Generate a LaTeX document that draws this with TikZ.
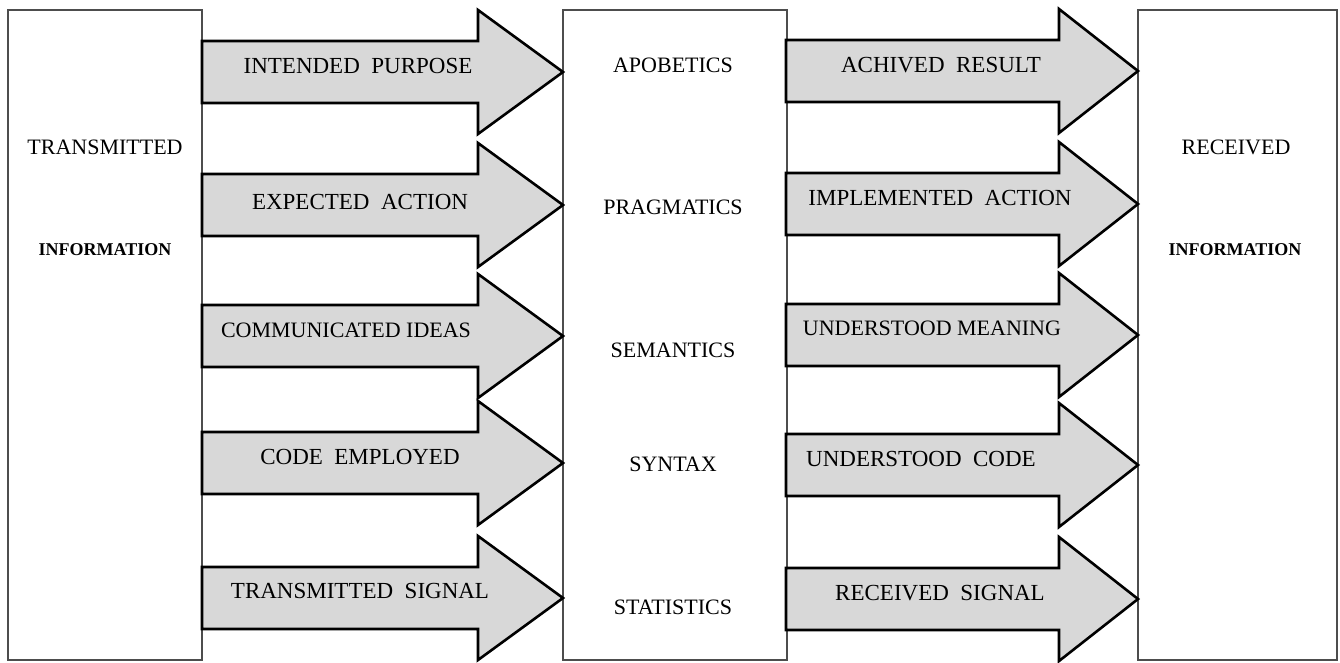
\documentclass[tikz,border=0pt]{standalone}
\usepackage{fontspec}
\setmainfont{Liberation Serif}
\newfontfamily\widefont[WordSpace=2]{Liberation Serif}
\usetikzlibrary{calc}
\definecolor{arrowgrey}{HTML}{D8D8D8}
\definecolor{boxgrey}{HTML}{4D4D4D}

\tikzset{
    panel/.style={draw=boxgrey, line width=1.3pt},
    blockarrow/.style={draw=black, line width=2.6pt, fill=arrowgrey, line join=miter},
    caption/.style={black, font=\fontsize{22}{24}\selectfont, inner sep=0pt},
    widecaption/.style={black, font=\widefont\fontsize{23}{25}\selectfont, inner sep=0pt},
    boldcaption/.style={black, font=\fontsize{18}{20}\selectfont\bfseries, inner sep=0pt}
}

% block arrow: tail x, head base x, tip x, centre y
\newcommand{\blockarrow}[4]{%
    \draw[blockarrow] (#1,#4-31) -- (#2,#4-31) -- (#2,#4-62) -- (#3,#4)
        -- (#2,#4+62) -- (#2,#4+31) -- (#1,#4+31) -- cycle;
}

\begin{document}
\begin{tikzpicture}[x=1pt,y=-1pt]
    \useasboundingbox (0,0) rectangle (1340,662);
    % Draw the three panels
    \draw[panel] (8,10) rectangle (202,660);
    \draw[panel] (563,10) rectangle (787,660);
    \draw[panel] (1138,10) rectangle (1337,660);
    % Sender and receiver
    \node[caption] (sendtop) at (105,147) {TRANSMITTED};
    \node[boldcaption] (sendbot) at (105,250) {INFORMATION};
    \node[caption] (recvtop) at (1236,147) {RECEIVED};
    \node[boldcaption] (recvbot) at (1235,250) {INFORMATION};
    % Levels in the middle panel
    \node[caption] (apobetics) at (673,65) {APOBETICS};
    \node[caption] (pragmatics) at (673,207) {PRAGMATICS};
    \node[caption] (semantics) at (673,350) {SEMANTICS};
    \node[caption] (syntax) at (673,464) {SYNTAX};
    \node[caption] (statistics) at (673,607) {STATISTICS};
    % Arrows on the sender side
    \foreach \y in {72, 205, 336, 463, 598}
    {
        \blockarrow{202}{478}{563}{\y}
    }
    % Arrows on the receiver side
    \foreach \y in {71, 204, 335, 465, 599}
    {
        \blockarrow{786}{1059}{1138}{\y}
    }
    \node[widecaption] (purpose) at (358,66) {INTENDED PURPOSE};
    \node[widecaption] (expaction) at (360,202) {EXPECTED ACTION};
    \node[caption] (ideas) at (346,330) {COMMUNICATED IDEAS};
    \node[widecaption] (employed) at (360,457) {CODE EMPLOYED};
    \node[widecaption] (txsignal) at (360,591) {TRANSMITTED SIGNAL};
    \node[widecaption] (result) at (941,65) {ACHIVED RESULT};
    \node[widecaption] (impaction) at (940,198) {IMPLEMENTED ACTION};
    \node[caption] (meaning) at (932,328) {UNDERSTOOD MEANING};
    \node[widecaption] (code) at (921,459) {UNDERSTOOD CODE};
    \node[widecaption] (rxsignal) at (940,593) {RECEIVED SIGNAL};
\end{tikzpicture}
\end{document}
